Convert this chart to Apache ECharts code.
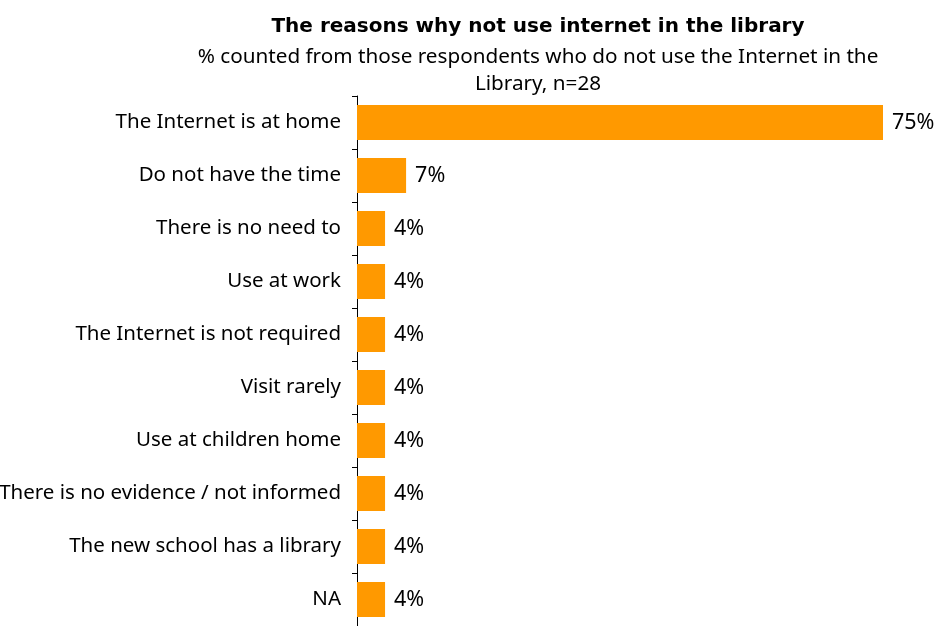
<!DOCTYPE html>
<html>
<head>
<meta charset="utf-8">
<script src="https://cdn.jsdelivr.net/npm/echarts@6/dist/echarts.min.js"></script>
<style>
  html, body { margin: 0; padding: 0; background: #fff; }
  #chart { width: 939px; height: 626px; }
</style>
</head>
<body>
<div id="chart"></div>
<script>
// Reasons for not using the Internet in the library (share of respondents, %)
const reasons = [
  'The Internet is at home',
  'Do not have the time',
  'There is no need to',
  'Use at work',
  'The Internet is not required',
  'Visit rarely',
  'Use at children home',
  'There is no evidence / not informed',
  'The new school has a library',
  'NA'
];
const shares = [75, 7, 4, 4, 4, 4, 4, 4, 4, 4];

const titleText = 'The reasons why not use internet in the library';
const subtitleText = '% counted from those respondents who do not use the Internet in the\nLibrary, n=28';

const FONT = '"Noto Sans", sans-serif';
const TITLE_FONT = '"DejaVu Sans", sans-serif';

const chart = echarts.init(document.getElementById('chart'), null, { renderer: 'canvas' });

chart.setOption({
  animation: false,
  backgroundColor: '#ffffff',
  title: [
    {
      text: titleText,
      left: 533,
      textAlign: 'center',
      top: 12,
      textStyle: { fontFamily: TITLE_FONT, fontSize: 20, fontWeight: 'bold', color: '#000' }
    },
    {
      text: subtitleText,
      left: 533,
      textAlign: 'center',
      top: 39,
      textStyle: { fontFamily: FONT, fontSize: 20.7, fontWeight: 'normal', color: '#000', lineHeight: 27 }
    }
  ],
  grid: {
    left: 357, right: 56, top: 96, bottom: 0,
    containLabel: false,
    outerBoundsMode: 'none'
  },
  xAxis: {
    type: 'value',
    min: 0,
    max: 75,
    show: false
  },
  yAxis: {
    type: 'category',
    data: reasons,
    inverse: true,
    axisLine: { show: true, lineStyle: { color: '#000', width: 1 } },
    axisTick: { show: true, length: 5, lineStyle: { color: '#000' } },
    axisLabel: { fontFamily: FONT, fontSize: 20.5, color: '#000', margin: 16 }
  },
  series: [
    {
      type: 'bar',
      data: shares,
      barCategoryGap: '34%',
      itemStyle: { color: '#FF9900' },
      label: {
        show: true,
        position: 'right',
        distance: 9,
        formatter: '{c}%',
        fontFamily: FONT,
        fontSize: 21.5,
        color: '#000'
      }
    }
  ]
});
</script>
</body>
</html>
